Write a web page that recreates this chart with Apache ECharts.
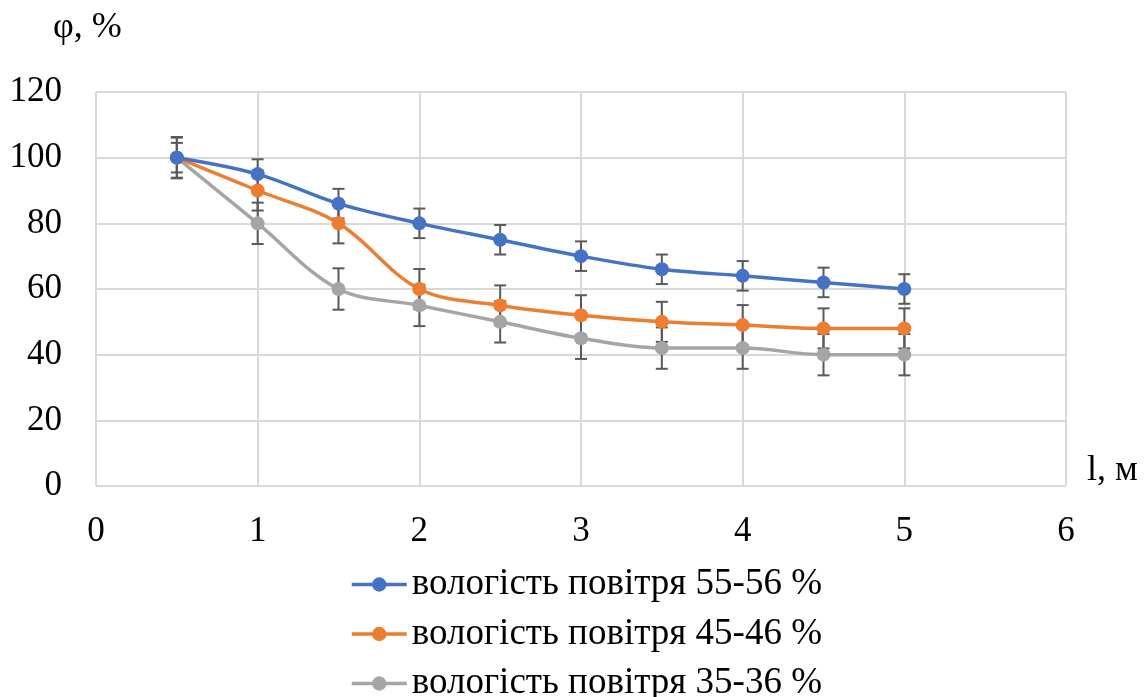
<!DOCTYPE html>
<html><head><meta charset="utf-8">
<script src="https://cdn.jsdelivr.net/npm/echarts@6/dist/echarts.min.js"></script>
<style>html,body{margin:0;padding:0;background:#fff}#c{width:1148px;height:697px}</style>
</head><body><div id="c"></div>
<script>
const xValues = [0.5, 1, 1.5, 2, 2.5, 3, 3.5, 4, 4.5, 5];
const seriesNames = ['вологість повітря 55-56 %', 'вологість повітря 45-46 %', 'вологість повітря 35-36 %'];
const blueValues = [100, 95, 86, 80, 75, 70, 66, 64, 62, 60];
const orangeValues = [100, 90, 80, 60, 55, 52, 50, 49, 48, 48];
const grayValues = [100, 80, 60, 55, 50, 45, 42, 42, 40, 40];
const errorSizes = [4.5, 6.1, 6.3];
const colors = ['#4472C4', '#ED7D31', '#A5A5A5'];
const yTicks = [0, 20, 40, 60, 80, 100, 120];
const xTicks = [0, 1, 2, 3, 4, 5, 6];

const allValues = [blueValues, orangeValues, grayValues];
const font = '"Liberation Serif", "Times New Roman", serif';

const series = [];
allValues.forEach((vals, i) => {
  series.push({
    type: 'custom', name: seriesNames[i] + '_err', z: 1, silent: true,
    data: xValues.map((x, k) => [x, vals[k] - errorSizes[i], vals[k] + errorSizes[i]]),
    renderItem: function (params, api) {
      const lo = api.coord([api.value(0), api.value(1)]);
      const hi = api.coord([api.value(0), api.value(2)]);
      const hw = 6;
      const st = { stroke: '#595959', lineWidth: 2 };
      return { type: 'group', children: [
        { type: 'line', shape: { x1: lo[0], y1: lo[1], x2: hi[0], y2: hi[1] }, style: st },
        { type: 'line', shape: { x1: lo[0] - hw, y1: lo[1], x2: lo[0] + hw, y2: lo[1] }, style: st },
        { type: 'line', shape: { x1: hi[0] - hw, y1: hi[1], x2: hi[0] + hw, y2: hi[1] }, style: st }
      ]};
    }
  });
});
allValues.forEach((vals, i) => {
  series.push({
    type: 'line', name: seriesNames[i], z: 3 + (2 - i),
    data: xValues.map((x, k) => [x, vals[k]]),
    smooth: 0.35, symbol: 'circle', symbolSize: 14,
    itemStyle: { color: colors[i] },
    lineStyle: { color: colors[i], width: 3.5 }
  });
});

const chart = echarts.init(document.getElementById('c'));
chart.setOption({
  animation: false,
  backgroundColor: '#fff',
  grid: { left: 96, right: 82, top: 92, bottom: 211 },
  xAxis: {
    type: 'value', min: xTicks[0], max: xTicks[xTicks.length - 1], interval: 1,
    axisLine: { show: false }, axisTick: { show: false },
    splitLine: { show: true, lineStyle: { color: '#D9D9D9', width: 2 } },
    axisLabel: { color: '#000', fontFamily: font, fontSize: 35, margin: 28 }
  },
  yAxis: {
    type: 'value', min: yTicks[0], max: yTicks[yTicks.length - 1], interval: 20,
    axisLine: { show: false }, axisTick: { show: false },
    splitLine: { show: true, lineStyle: { color: '#D9D9D9', width: 2 } },
    axisLabel: { color: '#000', fontFamily: font, fontSize: 35, margin: 34 }
  },
  legend: {
    orient: 'vertical', left: 350, top: 566, height: 220, itemGap: 12.5, padding: 0,
    itemWidth: 55, itemHeight: 18,
    lineStyle: { width: 3.5 },
    data: seriesNames,
    textStyle: { color: '#000', fontFamily: font, fontSize: 37 }
  },
  graphic: [
    { type: 'text', left: 53, top: 10, style: { text: 'φ, %', font: '36px ' + font, fill: '#000' } },
    { type: 'text', left: 1087, top: 453, style: { text: 'l, м', font: '36px ' + font, fill: '#000' } }
  ],
  series: series
});
</script></body></html>
